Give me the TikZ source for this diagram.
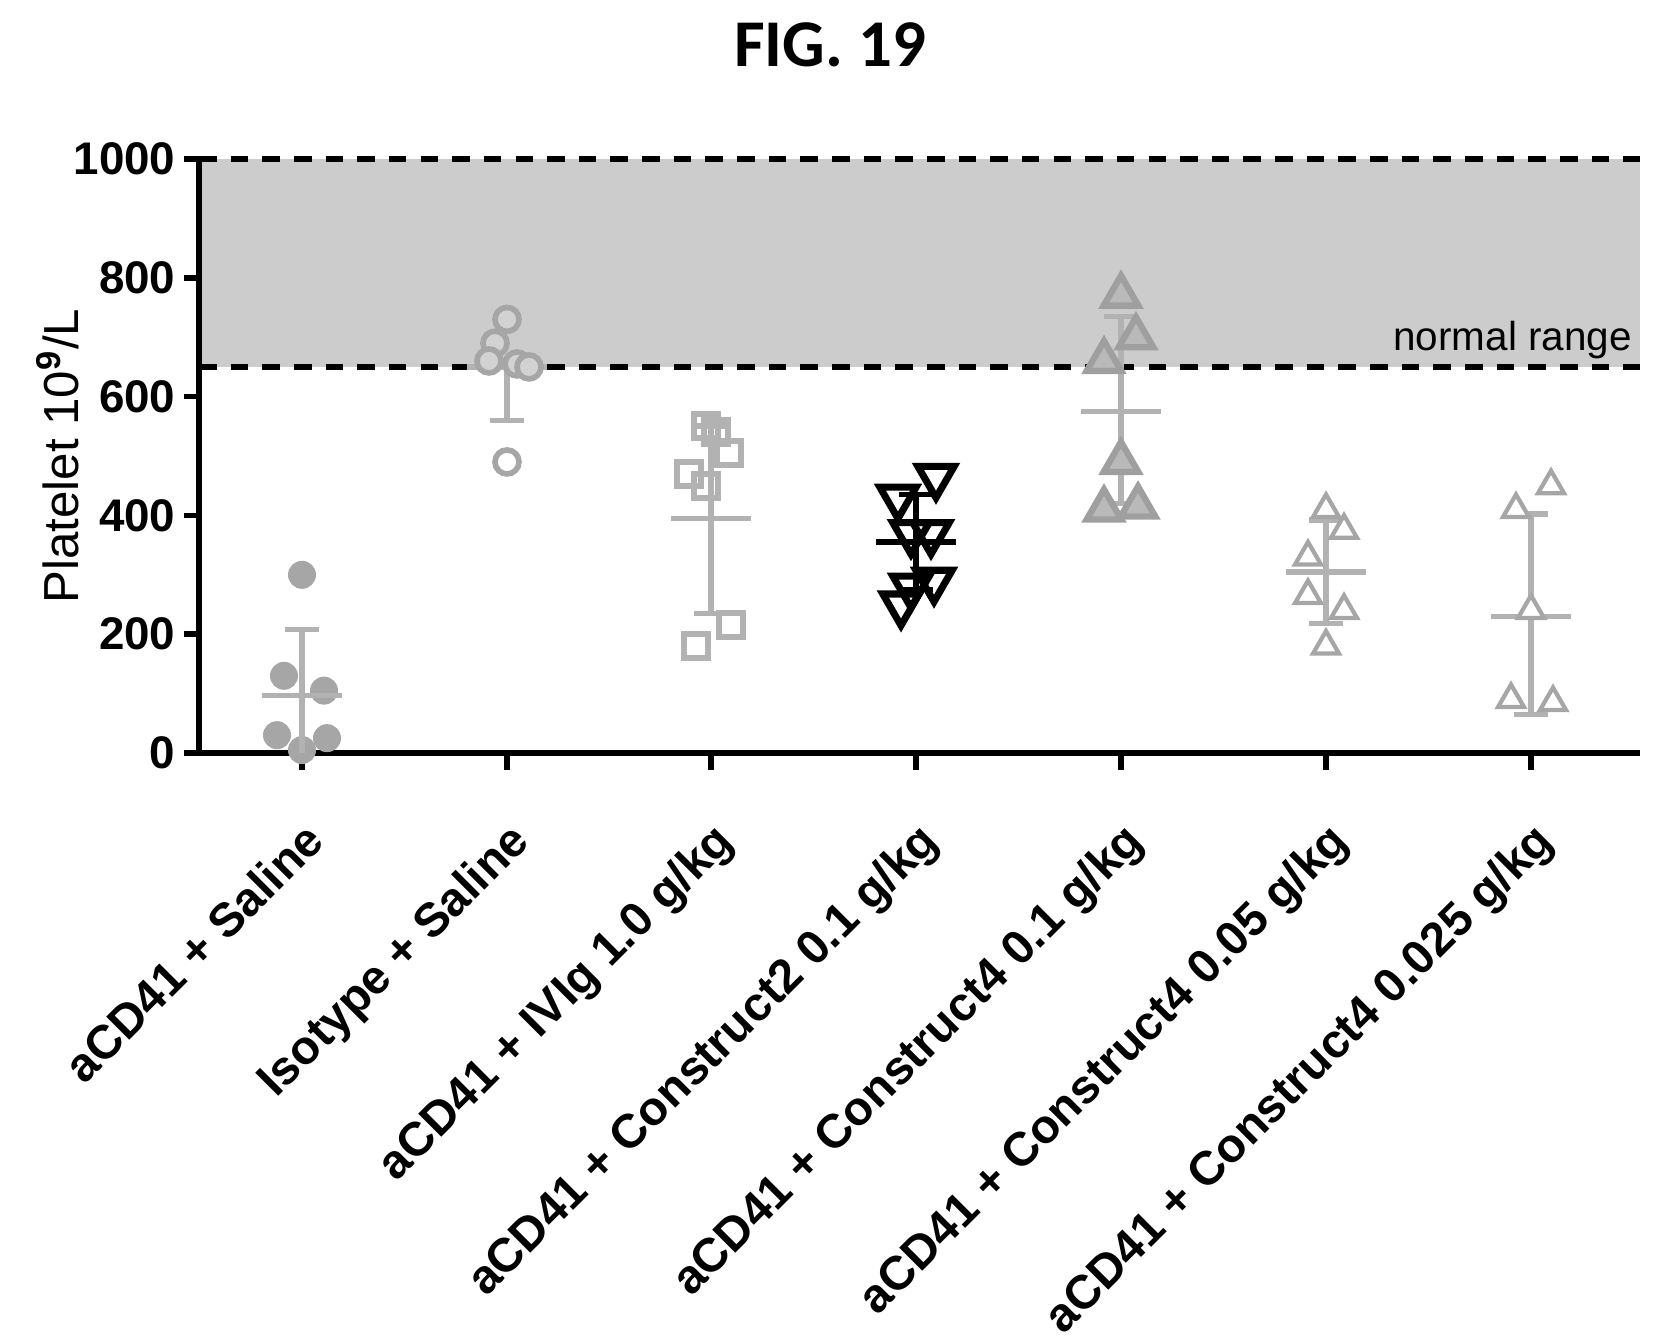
\documentclass[tikz,border=0pt]{standalone}
\usepackage{fontspec}
\setmainfont{Liberation Sans}
\newfontfamily\titlefont{Carlito}
\usetikzlibrary{shapes.geometric}
\begin{document}
\begin{tikzpicture}[x=0.01cm,y=0.01cm,
  ax/.style={line width=1.6pt,black},
  bnd/.style={line width=1.6pt,dash pattern=on 5pt off 4pt},
  bar/.style={line width=1.6pt},
  circf/.style={circle,fill=gray!70,minimum size=0.28cm,inner sep=0},
  circo/.style={circle,draw=gray!70,fill=gray!35,line width=1.6pt,minimum size=0.24cm,inner sep=0},
  circw/.style={circle,draw=gray!70,fill=white,line width=1.6pt,minimum size=0.24cm,inner sep=0},
  sqo/.style={rectangle,draw=gray!60,line width=1.8pt,minimum size=0.24cm,inner sep=0},
  tdn/.style={regular polygon,regular polygon sides=3,shape border rotate=180,draw=black,line width=2pt,minimum size=0.42cm,inner sep=0},
  tupf/.style={regular polygon,regular polygon sides=3,draw=gray!75,fill=gray!55,line width=1.8pt,minimum size=0.4cm,inner sep=0},
  tups/.style={regular polygon,regular polygon sides=3,draw=gray!70,fill=white,line width=1.2pt,minimum size=0.3cm,inner sep=0},
  cat/.style={font=\bfseries\fontsize{13.5}{15}\selectfont,rotate=45,anchor=north east,inner sep=0},
  tl/.style={font=\bfseries\fontsize{13}{15}\selectfont,anchor=east,inner sep=0}]
\useasboundingbox (0,0) rectangle (1663,1338);
\node[font=\titlefont\bfseries\fontsize{19}{22}\selectfont] (title) at (830,1293) {FIG. 19};
\begin{scope}[shift={(0,585)},yscale=0.594]
\fill[gray!40] (199,650) rectangle (1640,1000);
\draw[bnd] (199,1000) -- (1640,1000);
\draw[bnd] (199,650) -- (1640,650);
\node[font=\fontsize{11.5}{13}\selectfont,anchor=south east,inner sep=1pt] (nr) at (1636,656) {normal range};
% axes
\coordinate (o) at (199,0);
\coordinate (xe) at (1640,0);
\coordinate (ye) at (199,1000);
\draw[ax] (ye) -- (o) -- (xe);
\foreach \v/\t in {0/0,200/200,400/400,600/600,800/800,1000/1000}{
  \draw[ax] (199,\v) -- (184,\v);
  \node[tl] (t\v) at (176,\v) {\t};}
\foreach \x in {302,507,711,916,1121,1326,1531}{\draw[ax] (\x,0) -- (\x,-28);}
\node[font=\fontsize{14}{16}\selectfont,rotate=90] (yl) at (58,500) {Platelet 10$^{\mathbf 9}$/L};
% group1
\foreach \dx/\v in {0/300,-18/130,22/105,-25/30,25/25,0/5}{\node[circf] at (302+\dx,\v) {};}
\draw[bar,gray!60] (302,0) -- (302,208) (285,208) -- (319,208) (262,97) -- (342,97);
% group2
\draw[bar,gray!60] (507,560) -- (507,650) (490,560) -- (524,560) (467,650) -- (547,650);
\foreach \dx/\v in {0/730,-12/690,-18/660,10/655,22/650}{\node[circo] at (507+\dx,\v) {};}
\node[circw] at (507,490) {};
% group3
\foreach \dx/\v in {-5/550,5/540,18/505,-22/470,-5/450,20/215,-15/180}{\node[sqo] at (711+\dx,\v) {};}
\draw[bar,gray!60] (711,235) -- (711,550) (694,235) -- (728,235) (694,550) -- (728,550) (671,395) -- (751,395);
% group4
\draw[bar,black] (916,275) -- (916,435) (899,275) -- (933,275) (899,435) -- (933,435) (876,355) -- (956,355);
\foreach \dx/\v in {20/465,-18/430,-5/370,15/370,18/290,-5/280,-15/250}{\node[tdn] at (916+\dx,\v) {};}
% group5
\draw[bar,gray!60] (1121,420) -- (1121,735) (1104,420) -- (1138,420) (1104,735) -- (1138,735) (1081,575) -- (1161,575);
\foreach \dx/\v in {0/770,15/700,-17/660,0/490,-17/410,17/415}{\node[tupf] at (1121+\dx,\v) {};}
% group6
\draw[bar,gray!60] (1326,218) -- (1326,392) (1309,218) -- (1343,218) (1309,392) -- (1343,392) (1286,305) -- (1366,305);
\foreach \dx/\v in {0/410,18/375,-18/330,-18/265,18/240,0/180}{\node[tups] at (1326+\dx,\v) {};}
% group7
\draw[bar,gray!60] (1531,65) -- (1531,402) (1514,65) -- (1548,65) (1514,402) -- (1548,402) (1491,230) -- (1571,230);
\foreach \dx/\v in {20/450,-15/410,0/240,-20/90,22/85}{\node[tups] at (1531+\dx,\v) {};}
% categories
\node[cat] (c1) at (302,-110) {aCD41 + Saline};
\node[cat] (c2) at (507,-110) {Isotype + Saline};
\node[cat] (c3) at (711,-110) {aCD41 + IVIg 1.0 g/kg};
\node[cat] (c4) at (916,-110) {aCD41 + Construct2 0.1 g/kg};
\node[cat] (c5) at (1121,-110) {aCD41 + Construct4 0.1 g/kg};
\node[cat] (c6) at (1326,-110) {aCD41 + Construct4 0.05 g/kg};
\node[cat] (c7) at (1531,-110) {aCD41 + Construct4 0.025 g/kg};
\end{scope}
\end{tikzpicture}
\end{document}
